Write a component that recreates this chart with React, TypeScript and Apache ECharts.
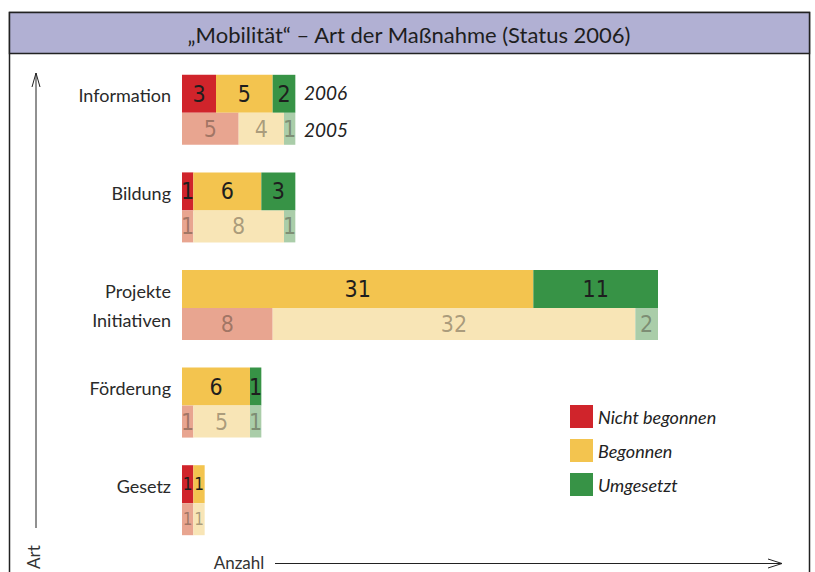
import React, { useEffect, useRef } from "react";
import * as echarts from "echarts";

const categories = ["Information", "Bildung", "Projekte\nInitiativen", "Förderung", "Gesetz"];
const nichtBegonnen2006 = [3, 1, 0, 0, 1];
const begonnen2006 = [5, 6, 31, 6, 1];
const umgesetzt2006 = [2, 3, 11, 1, 0];
const nichtBegonnen2005 = [5, 1, 8, 1, 1];
const begonnen2005 = [4, 8, 32, 5, 1];
const umgesetzt2005 = [1, 1, 2, 1, 0];
const legendNames = ["Nicht begonnen", "Begonnen", "Umgesetzt"];
const yearLabels = ["2006", "2005"];
const title = "„Mobilität“ – Art der Maßnahme (Status 2006)";
const xAxisName = "Anzahl";
const yAxisName = "Art";

const colors2006 = ["#d0242b", "#f3c44f", "#379346"];
const colors2005 = ["#e8a590", "#f8e5b6", "#aacda9"];

const FONT = "'Gill Sans', 'Lato', 'Noto Sans', sans-serif";
const NUMFONT = "'Liberation Sans Narrow', 'DejaVu Sans Condensed', 'Lato', sans-serif";

export default function App() {
  const ref = useRef<HTMLDivElement>(null);
  useEffect(() => {
    if (!ref.current) return;
    const chart = echarts.init(ref.current, null, { renderer: "svg" });
    const dark = "#1e1e1e";
    const faded = "rgba(60,50,40,0.42)";
    const makeStack = (stack: string, arrays: number[][], colors: string[], names: string[], width: number, labelColor: string) =>
      arrays.map((data, si) => ({
        name: names[si],
        type: "bar",
        stack,
        barWidth: width,
        barGap: 0,
        itemStyle: { color: colors[si] },
        data: data.map((v, i) => {
          const prev = si > 0 ? arrays[si - 1][i] : 0;
          const next = si < arrays.length - 1 ? arrays[si + 1][i] : 0;
          const crowded = v === 1 && (prev === 1 || next === 1);
          return crowded ? { value: v, label: { fontSize: 17 } } : v;
        }),
        label: {
          show: true,
          position: "inside",
          color: labelColor,
          fontFamily: NUMFONT,
          fontSize: 23,
          formatter: (p: any) => (p.value > 0 ? String(p.value) : ""),
        },
      }));
    chart.setOption({
      animation: false,
      grid: { left: 182, right: 157, top: 61, bottom: 23 },
      xAxis: { type: "value", min: 0, max: 42, show: false },
      yAxis: {
        type: "category",
        data: categories,
        inverse: true,
        axisLine: { show: false },
        axisTick: { show: false },
        axisLabel: {
          fontFamily: FONT,
          fontSize: 18,
          color: "#2a2a2a",
          margin: 11,
          lineHeight: 29,
          formatter: (v: string) => (v.indexOf("\n") >= 0 ? v : v + "\n "),
        },
      },
      legend: {
        orient: "vertical",
        left: 565,
        top: 400,
        itemWidth: 23,
        itemHeight: 23,
        itemGap: 11,
        icon: "rect",
        data: legendNames,
        textStyle: { fontFamily: FONT, fontStyle: "italic", fontSize: 18, color: "#222" },
        selectedMode: false,
      },
      series: [
        ...makeStack("s2006", [nichtBegonnen2006, begonnen2006, umgesetzt2006], colors2006, legendNames, 38, dark),
        ...makeStack("s2005", [nichtBegonnen2005, begonnen2005, umgesetzt2005], colors2005, legendNames.map((n) => "2005 " + n), 32, faded),
      ],
      graphic: [
        { type: "rect", shape: { x: 9.5, y: 12.5, width: 800, height: 600 }, style: { fill: "none", stroke: "#222", lineWidth: 1.5 }, silent: true },
        { type: "rect", shape: { x: 9.5, y: 12.5, width: 800, height: 41 }, style: { fill: "#b1b0d3", stroke: "#222", lineWidth: 1.5 }, silent: true },
        { type: "text", x: 409, y: 34, style: { text: title, fontFamily: FONT, fontSize: 22, fill: "#1e1e1e", align: "center", verticalAlign: "middle" } },
        { type: "line", shape: { x1: 36, y1: 528, x2: 36, y2: 73 }, style: { stroke: "#222", lineWidth: 1 } },
        { type: "polyline", shape: { points: [[32, 87], [36, 73], [40, 87]] }, style: { stroke: "#222", lineWidth: 1, fill: "none" } },
        { type: "text", x: 33, y: 557, rotation: Math.PI / 2, style: { text: yAxisName, fontFamily: FONT, fontSize: 17, fill: "#333", align: "center", verticalAlign: "middle" } },
        { type: "line", shape: { x1: 275, y1: 563.5, x2: 782, y2: 563.5 }, style: { stroke: "#222", lineWidth: 1 } },
        { type: "polyline", shape: { points: [[768, 559], [782, 563.5], [768, 568]] }, style: { stroke: "#222", lineWidth: 1, fill: "none" } },
        { type: "text", x: 239, y: 562, style: { text: xAxisName, fontFamily: FONT, fontSize: 17, fill: "#333", align: "center", verticalAlign: "middle" } },
        { type: "text", x: 304, y: 92, style: { text: yearLabels[0], fontFamily: FONT, fontStyle: "italic", fontSize: 19, fill: "#222", verticalAlign: "middle" } },
        { type: "text", x: 304, y: 129, style: { text: yearLabels[1], fontFamily: FONT, fontStyle: "italic", fontSize: 19, fill: "#222", verticalAlign: "middle" } },
      ],
    });
    return () => chart.dispose();
  }, []);
  return <div ref={ref} style={{ position: "fixed", left: 0, top: 0, width: 815, height: 572, background: "#fff" }} />;
}
